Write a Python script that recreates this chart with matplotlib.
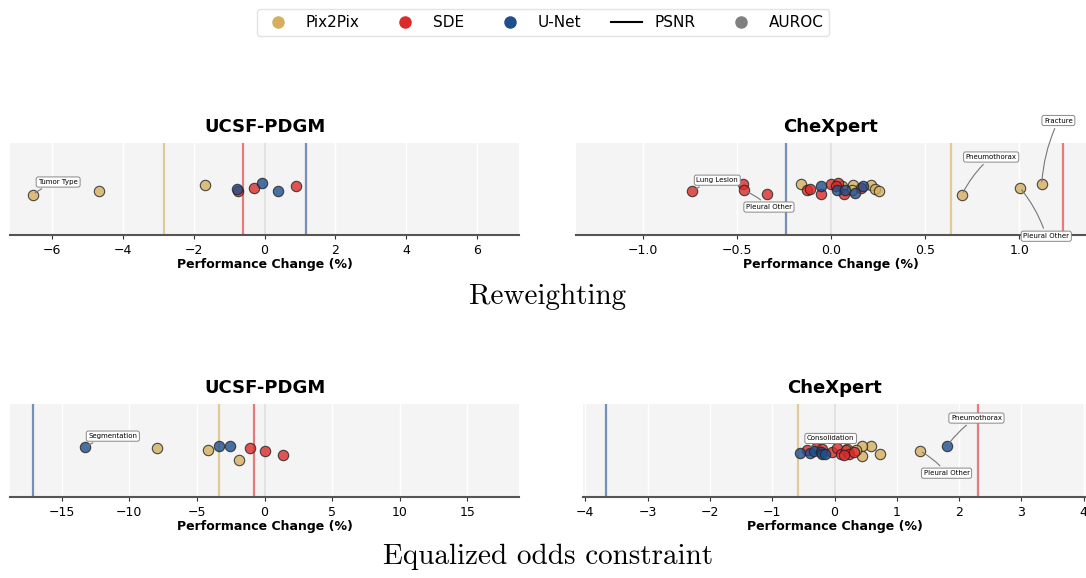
import matplotlib
matplotlib.use("Agg")
import matplotlib.pyplot as plt
from matplotlib.lines import Line2D

models = ["Pix2Pix", "SDE", "U-Net"]
colors = {"Pix2Pix": "#D4AF5F", "SDE": "#DC2B2B", "U-Net": "#1F4E8D"}

# AUROC change per task (x) and jitter (y), PSNR change per model (vertical lines)
rw_ucsf_x = {"Pix2Pix": [-6.53, -4.67, -1.68],
             "SDE": [-0.76, -0.29, 0.89],
             "U-Net": [-0.78, -0.08, 0.38]}
rw_ucsf_y = {"Pix2Pix": [-0.12, -0.05, 0.08],
             "SDE": [-0.05, 0.03, 0.07],
             "U-Net": [0.01, 0.12, -0.05]}
rw_ucsf_psnr = {"Pix2Pix": -2.83, "SDE": -0.60, "U-Net": 1.16}
rw_ucsf_notes = [("Pix2Pix", 0, "Tumor Type", (18, 9))]

rw_chex_x = {"Pix2Pix": [-0.157, 0.057, 0.119, 0.11, 0.214, 0.235, 0.253, 0.695, 1.002, 1.118],
             "SDE": [-0.736, -0.469, -0.462, -0.337, -0.125, -0.112, -0.055, 0.0, 0.036, 0.029, 0.071, 0.16],
             "U-Net": [-0.055, 0.030, 0.075, 0.128, 0.168]}
rw_chex_y = {"Pix2Pix": [0.11, 0.06, 0.09, -0.02, 0.09, -0.01, -0.05, -0.12, 0.03, 0.10],
             "SDE": [-0.05, 0.11, -0.03, -0.11, -0.03, 0.0, -0.11, 0.11, 0.13, 0.06, -0.11, 0.03],
             "U-Net": [0.07, -0.03, -0.03, -0.08, 0.06]}
rw_chex_psnr = {"Pix2Pix": 0.635, "SDE": 1.23, "U-Net": -0.237}
rw_chex_notes = [("SDE", 0, "Lung Lesion", (18, 8)),
                 ("SDE", 2, "Pleural Other", (18, -12)),
                 ("Pix2Pix", 7, "Pneumothorax", (21, 27)),
                 ("Pix2Pix", 9, "Fracture", (12, 46)),
                 ("Pix2Pix", 8, "Pleural Other", (19, -35))]

eo_ucsf_x = {"Pix2Pix": [-7.98, -4.17, -1.86],
             "SDE": [-1.09, 0.0, 1.37],
             "U-Net": [-13.27, -3.36, -2.54]}
eo_ucsf_y = {"Pix2Pix": [0.06, 0.01, -0.20],
             "SDE": [0.06, -0.01, -0.09],
             "U-Net": [0.07, 0.09, 0.10]}
eo_ucsf_psnr = {"Pix2Pix": -3.38, "SDE": -0.79, "U-Net": -17.11}
eo_ucsf_notes = [("U-Net", 0, "Segmentation", (20, 8))]

eo_chex_x = {"Pix2Pix": [1.375, 0.734, 0.593, 0.437, 0.448, 0.34, 0.20],
             "SDE": [-0.44, -0.30, -0.04, 0.04, 0.10, 0.18, 0.24, 0.31, -0.2, 0.15],
             "U-Net": [1.81, -0.56, -0.39, -0.33, -0.21, -0.20, -0.146]}
eo_chex_y = {"Pix2Pix": [-0.01, -0.07, 0.10, 0.09, -0.12, 0.02, 0.03],
             "SDE": [0.02, 0.05, -0.03, 0.05, -0.08, 0.01, -0.08, -0.04, 0.03, -0.09],
             "U-Net": [0.10, -0.06, -0.06, -0.02, -0.04, -0.08, -0.07]}
eo_chex_psnr = {"Pix2Pix": -0.593, "SDE": 2.31, "U-Net": -3.67}
eo_chex_notes = [("U-Net", 0, "Pneumothorax", (21, 20)),
                 ("Pix2Pix", 0, "Pleural Other", (19, -16)),
                 ("SDE", 0, "Consolidation", (17, 8))]


def panel(ax, title, xs, ys, psnr, notes):
    ax.set_facecolor("#f4f4f4")
    for s in ["top", "right", "left"]:
        ax.spines[s].set_visible(False)
    ax.spines["bottom"].set_color("#555555")
    ax.spines["bottom"].set_linewidth(1.5)
    ax.grid(axis="x", color="white", linewidth=1.0)
    ax.set_axisbelow(True)
    ax.axvline(0, color="#e2e2e2", linewidth=1.5, zorder=1)
    for m in models:
        ax.axvline(psnr[m], color=colors[m], alpha=0.6, linewidth=1.6, zorder=2)
    for m in models:
        ax.scatter(xs[m], ys[m], s=56, color=colors[m], alpha=0.8,
                   edgecolor="#222222", linewidth=0.8, zorder=3)
    for m, i, txt, off in notes:
        ax.annotate(txt, (xs[m][i], ys[m][i]), xytext=off, textcoords="offset points",
                    fontsize=5, ha="center", va="center",
                    bbox=dict(boxstyle="round,pad=0.3", fc="white", ec="#888888", lw=0.7),
                    arrowprops=dict(arrowstyle="-", color="#777777", lw=0.8,
                                    connectionstyle="arc3,rad=0.1"), zorder=5)
    vals = [abs(v) for m in models for v in xs[m]] + [abs(psnr[m]) for m in models]
    lim = max(vals) * 1.1
    ax.set_xlim(-lim, lim)
    ax.set_ylim(-1, 1)
    ax.set_yticks([])
    ax.tick_params(axis="x", labelsize=9, colors="#333333", length=3, labelcolor="black")
    ax.set_xlabel("Performance Change (%)", fontsize=9, fontweight="bold", labelpad=1)
    ax.set_title(title, fontsize=13, fontweight="bold", pad=8)


fig = plt.figure(figsize=(10.86, 5.78), dpi=100)

ax1 = fig.add_axes([10 / 1086, 1 - 235 / 578, 509 / 1086, 92 / 578])
ax2 = fig.add_axes([576 / 1086, 1 - 235 / 578, 510 / 1086, 92 / 578])
ax3 = fig.add_axes([10 / 1086, 1 - 497 / 578, 509 / 1086, 93 / 578])
ax4 = fig.add_axes([583 / 1086, 1 - 497 / 578, 503 / 1086, 93 / 578])

panel(ax1, "UCSF-PDGM", rw_ucsf_x, rw_ucsf_y, rw_ucsf_psnr, rw_ucsf_notes)
panel(ax2, "CheXpert", rw_chex_x, rw_chex_y, rw_chex_psnr, rw_chex_notes)
panel(ax3, "UCSF-PDGM", eo_ucsf_x, eo_ucsf_y, eo_ucsf_psnr, eo_ucsf_notes)
panel(ax4, "CheXpert", eo_chex_x, eo_chex_y, eo_chex_psnr, eo_chex_notes)

fig.text(548 / 1086, 1 - 297 / 578, "Reweighting", family="cmr10", fontsize=21,
         ha="center", va="center")
fig.text(548 / 1086, 1 - 557 / 578, "Equalized odds constraint", family="cmr10",
         fontsize=21, ha="center", va="center")

handles = [Line2D([], [], marker="o", linestyle="", markersize=8, color=colors[m]) for m in models]
handles.append(Line2D([], [], color="black", linewidth=1.5))
handles.append(Line2D([], [], marker="o", linestyle="", markersize=8, color="grey"))
fig.legend(handles, models + ["PSNR", "AUROC"], loc="upper center",
           bbox_to_anchor=(0.5, 0.998), ncol=5, fontsize=11, frameon=True,
           edgecolor="#dddddd", handlelength=2.0, columnspacing=2.0, borderpad=0.4)

fig.savefig("out.png", dpi=100)
